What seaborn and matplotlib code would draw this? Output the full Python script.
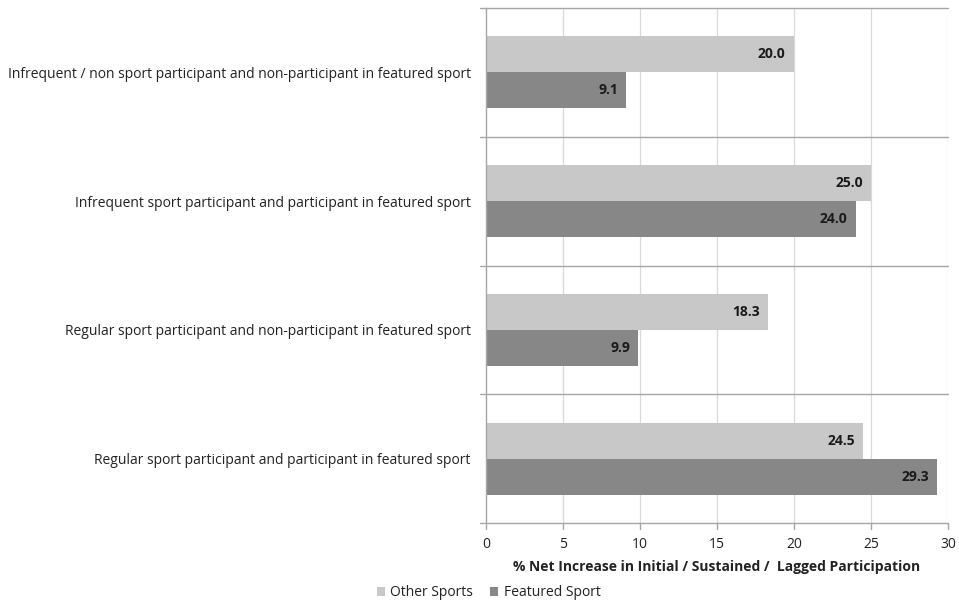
import matplotlib
matplotlib.use("Agg")
import matplotlib.pyplot as plt
import seaborn as sns
import pandas as pd
from matplotlib.patches import Patch

categories = [
    "Infrequent / non sport participant and non-participant in featured sport",
    "Infrequent sport participant and participant in featured sport",
    "Regular sport participant and non-participant in featured sport",
    "Regular sport participant and participant in featured sport",
]
other_sports = [20.0, 25.0, 18.3, 24.5]
featured_sport = [9.1, 24.0, 9.9, 29.3]
series_names = ["Other Sports", "Featured Sport"]
x_ticks = [0, 5, 10, 15, 20, 25, 30]
x_label = "% Net Increase in Initial / Sustained /  Lagged Participation"

colors = {"Other Sports": "#c8c8c8", "Featured Sport": "#878787"}

df = pd.DataFrame({
    "category": categories * 2,
    "series": [series_names[0]] * len(categories) + [series_names[1]] * len(categories),
    "value": other_sports + featured_sport,
})

sns.set_theme(style="white")
plt.rcParams["font.family"] = ["Open Sans", "DejaVu Sans"]

fig = plt.figure(figsize=(9.59, 6.02), dpi=100)
ax = fig.add_axes([486 / 959, 1 - 523 / 602, (948 - 486) / 959, (523 - 8) / 602])

sns.barplot(data=df, y="category", x="value", hue="series", order=categories,
            hue_order=series_names, palette=colors, orient="h", width=0.56,
            saturation=1, legend=False, linewidth=0, edgecolor="none", ax=ax)

ax.set_xlim(0, 30)
ax.set_ylim(len(categories) - 0.5, -0.5)
ax.set_xticks(x_ticks)
ax.set_xticklabels([str(t) for t in x_ticks], fontsize=10, color="#222222")
ax.set_xlabel(x_label, fontsize=10, fontweight="bold", color="#222222", labelpad=6)
ax.set_ylabel("")
ax.tick_params(axis="x", length=0, pad=10)

# category labels sit at the group centres, tick marks at group boundaries
ax.set_yticks(range(len(categories)))
ax.set_yticklabels(categories, fontsize=10, color="#222222")
ax.tick_params(axis="y", length=0, pad=11)

# vertical gridlines
for t in x_ticks[1:]:
    ax.axvline(t, color="#d9d9d9", lw=0.9, zorder=0)

# horizontal separators between groups
for b in [i - 0.5 for i in range(len(categories) + 1)]:
    ax.plot([-0.4, 30], [b, b], color="#a6a6a6", lw=1.0, clip_on=False, zorder=1)

for s in ["top", "right", "bottom"]:
    ax.spines[s].set_visible(False)
ax.spines["left"].set_color("#a6a6a6")
ax.spines["left"].set_linewidth(1.0)

# small tick marks below the bottom line
for t in x_ticks:
    ax.plot([t, t], [len(categories) - 0.5, len(categories) - 0.45], color="#a6a6a6",
            lw=1.0, clip_on=False)

# value labels right-aligned inside the bar ends
for container in ax.containers:
    labels = ax.bar_label(container, fmt="%.1f", padding=-6, fontsize=10,
                          fontweight="bold", color="#1a1a1a")
    for lab in labels:
        lab.set_ha("right")

handles = [Patch(facecolor=colors[s], edgecolor="none", label=s) for s in series_names]
fig.legend(handles=handles, loc="center left", bbox_to_anchor=(364 / 959, 1 - 593 / 602),
           ncol=2, frameon=False, fontsize=10, handlelength=0.6, handleheight=0.6,
           handletextpad=0.4, columnspacing=1.2, labelcolor="#222222")

fig.savefig("out.png", dpi=100, facecolor="white")
